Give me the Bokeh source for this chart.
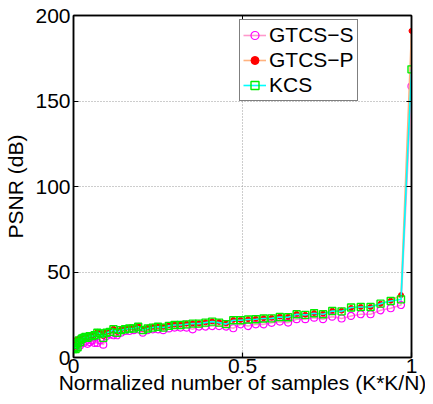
from bokeh.plotting import figure
from bokeh.models import Range1d, LinearAxis, FixedTicker, Legend, CustomLabelingPolicy
from bokeh.embed import file_html
from bokeh.resources import INLINE

# Normalized number of samples (K*K/N)
x_vals = [0.0002, 0.0010, 0.0022, 0.0039, 0.0061, 0.0088, 0.0120, 0.0156, 0.0198, 0.0244,
          0.0295, 0.0352, 0.0413, 0.0479, 0.0549, 0.0625, 0.0706, 0.0791, 0.0881, 0.0977,
          0.1077, 0.1182, 0.1292, 0.1406, 0.1526, 0.1650, 0.1780, 0.1914, 0.2053, 0.2197,
          0.2346, 0.2500, 0.2659, 0.2822, 0.2991, 0.3164, 0.3342, 0.3525, 0.3713, 0.3906,
          0.4104, 0.4307, 0.4514, 0.4727, 0.4944, 0.5166, 0.5393, 0.5625, 0.5862, 0.6104,
          0.6350, 0.6602, 0.6858, 0.7119, 0.7385, 0.7656, 0.7932, 0.8213, 0.8499, 0.8789,
          0.9084, 0.9385, 0.9690, 1.0000]

gtcs_s = [5.0, 6.0, 5.0, 6.0, 6.5, 7.0, 7.5, 8.0, 7.0, 9.0,
          8.5, 9.5, 8.0, 9.0, 10.0, 8.5, 8.5, 10.0, 7.5, 12.5,
          13.5, 13.0, 13.0, 14.5, 15.5, 15.5, 16.0, 16.5, 14.5, 16.0,
          16.5, 16.5, 16.0, 17.0, 17.5, 17.5, 17.5, 16.5, 18.1, 18.1,
          18.4, 18.4, 18.1, 17.1, 19.4, 18.4, 19.4, 19.4, 20.3, 21.0,
          20.4, 22.4, 22.4, 23.3, 22.4, 23.9, 22.8, 24.3, 25.3, 25.3,
          27.6, 28.8, 30.7, 158.6]

gtcs_p = [6.0, 10.0, 7.0, 9.0, 8.0, 10.0, 9.0, 11.0, 10.5, 12.0,
          12.0, 12.5, 12.5, 13.0, 13.0, 13.5, 15.0, 14.5, 12.5, 15.0,
          15.5, 16.8, 15.0, 16.5, 17.0, 17.5, 17.5, 18.5, 16.8, 17.5,
          18.0, 18.5, 18.0, 19.0, 19.4, 19.4, 19.8, 20.0, 20.0, 20.6,
          21.2, 20.8, 20.0, 22.0, 22.0, 22.4, 22.6, 23.0, 23.2, 24.0,
          23.8, 25.5, 25.0, 26.0, 25.6, 27.4, 27.4, 29.0, 29.6, 29.6,
          31.5, 33.2, 36.5, 191.0]

kcs = [5.0, 5.5, 6.0, 7.5, 5.0, 8.5, 6.0, 10.0, 9.0, 11.0,
       11.5, 12.0, 11.5, 12.5, 12.5, 13.0, 14.5, 14.0, 11.5, 14.5,
       15.0, 16.5, 14.5, 16.0, 16.5, 17.0, 17.0, 18.0, 16.0, 17.0,
       17.5, 18.0, 17.5, 18.5, 19.0, 19.0, 19.4, 19.8, 19.8, 20.4,
       21.0, 20.4, 19.5, 21.8, 21.8, 22.2, 22.4, 22.8, 22.9, 23.7,
       23.5, 25.3, 24.9, 25.9, 25.3, 27.2, 27.0, 29.2, 29.5, 29.5,
       31.5, 33.0, 34.0, 168.5]

x_ticks = [0, 0.5, 1]
y_ticks = [0, 50, 100, 150, 200]
x_title = "Normalized number of samples (K*K/N)"
y_title = "PSNR (dB)"

FONT = "Liberation Sans"
FS = "21px"

p = figure(output_backend="svg", toolbar_location=None,
           width=425, height=396,
           min_border_left=73, min_border_right=14, min_border_top=15, min_border_bottom=38,
           x_range=Range1d(0, 1), y_range=Range1d(0, 200),
           background_fill_color="white", border_fill_color="white")

p.outline_line_color = "black"
p.outline_line_width = 1.5

for ax in (p.xaxis[0], p.yaxis[0]):
    ax.axis_line_width = 1.5
    ax.major_tick_in = 5
    ax.major_tick_out = 0
    ax.major_tick_line_width = 1.2
    ax.minor_tick_line_color = None
    ax.major_label_text_font = FONT
    ax.major_label_text_font_size = FS
    ax.major_label_text_color = "black"
    ax.axis_label_text_font = FONT
    ax.axis_label_text_font_size = FS
    ax.axis_label_text_font_style = "normal"
    ax.axis_label_text_color = "black"

p.xaxis[0].ticker = FixedTicker(ticks=x_ticks)
p.yaxis[0].ticker = FixedTicker(ticks=y_ticks)
p.xaxis[0].major_label_standoff = 1
p.xaxis[0].axis_label = x_title
p.xaxis[0].axis_label_standoff = -5
p.yaxis[0].major_label_standoff = 3
p.yaxis[0].axis_label = y_title
p.yaxis[0].axis_label_standoff = 5
p.xaxis[0].major_label_overrides = {0: "0", 0.5: "0.5", 1: "1"}

# top and right ticks (labels suppressed)
no_labels = CustomLabelingPolicy(code="return new Set()")
top = LinearAxis(ticker=FixedTicker(ticks=x_ticks), major_tick_in=5, major_tick_out=0,
                 minor_tick_line_color=None, major_label_text_font_size="1px",
                 major_label_policy=no_labels,
                 major_label_standoff=0, axis_line_width=1.5)
right = LinearAxis(ticker=FixedTicker(ticks=y_ticks), major_tick_in=5, major_tick_out=0,
                   minor_tick_line_color=None, major_label_text_font_size="1px",
                   major_label_policy=CustomLabelingPolicy(code="return new Set()"),
                   major_label_standoff=0, axis_line_width=1.5)
p.add_layout(top, "above")
p.add_layout(right, "right")

p.xgrid.ticker = FixedTicker(ticks=x_ticks)
p.ygrid.ticker = FixedTicker(ticks=y_ticks)
for g in (p.xgrid[0], p.ygrid[0]):
    g.grid_line_color = "#9a9a9a"
    g.grid_line_dash = "1 2"
    g.grid_line_width = 1

# series
l1 = p.line(x_vals, gtcs_s, line_color="#ff99cc", line_width=1.6)
m1 = p.scatter(x_vals, gtcs_s, marker="circle", size=7, line_color="#ff00ff",
               fill_color=None, line_width=1.2)
l2 = p.line(x_vals, gtcs_p, line_color="#ffb27f", line_width=1.6)
m2 = p.scatter(x_vals, gtcs_p, marker="circle", size=5, line_color="#ff0000",
               fill_color="#ff0000", line_width=1)
l3 = p.line(x_vals, kcs, line_color="#00ffff", line_width=1.6)
m3 = p.scatter(x_vals, kcs, marker="square", size=7, line_color="#00ee00",
               fill_color=None, line_width=1.4)

legend = Legend(items=[("GTCS\u2212S", [l1, m1]), ("GTCS\u2212P", [l2, m2]), ("KCS", [l3, m3])],
                location=(166, 256))
legend.label_text_font = FONT
legend.label_text_font_size = FS
legend.label_text_color = "black"
legend.border_line_color = "black"
legend.border_line_width = 1.5
legend.background_fill_color = "white"
legend.background_fill_alpha = 1.0
legend.glyph_width = 23
legend.glyph_height = 20
legend.label_standoff = 3
legend.label_height = 20
legend.spacing = 1
legend.padding = 3
legend.margin = 0
p.add_layout(legend)

open("out.html", "w").write(file_html(p, INLINE))
